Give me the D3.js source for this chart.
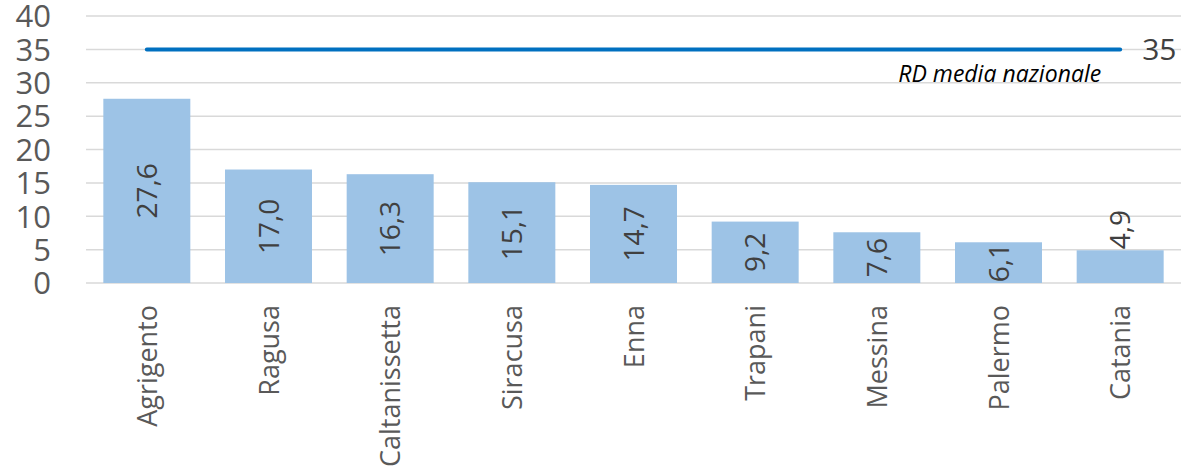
<!DOCTYPE html>
<html>
<head>
<meta charset="utf-8">
<script src="https://cdn.jsdelivr.net/npm/d3@7"></script>
<style>
  html, body { margin: 0; padding: 0; background: #fff; }
  svg { display: block; }
</style>
</head>
<body>
<svg id="chart" width="1184" height="476"></svg>
<script>
// Province values
const provinces = ["Agrigento", "Ragusa", "Caltanissetta", "Siracusa", "Enna", "Trapani", "Messina", "Palermo", "Catania"];
const values = [27.6, 17.0, 16.3, 15.1, 14.7, 9.2, 7.6, 6.1, 4.9];
// National average reference
const nationalAvg = 35;
const nationalLabel = "RD media nazionale";
const yTicks = [0, 5, 10, 15, 20, 25, 30, 35, 40];

const svg = d3.select("#chart");
const plotLeft = 86, plotRight = 1181, plotTop = 16, plotBottom = 283;

const x = d3.scaleBand().domain(provinces).range([plotLeft, plotRight]).paddingInner(0.285).paddingOuter(0.1425);
const y = d3.scaleLinear().domain([0, 40]).range([plotBottom, plotTop]);

const fmt = v => d3.format(".1f")(v).replace(".", ",");
const font = "'Open Sans', sans-serif";

// gridlines
svg.append("g").selectAll("line").data(yTicks).join("line")
  .attr("x1", plotLeft).attr("x2", plotRight)
  .attr("y1", d => y(d)).attr("y2", d => y(d))
  .attr("stroke", "#D9D9D9").attr("stroke-width", 1.5);

// y axis labels
const yAxis = d3.axisLeft(y).tickValues(yTicks).tickSize(0).tickPadding(0);
const ya = svg.append("g").attr("transform", `translate(${plotLeft - 35},0)`).call(yAxis);
ya.select(".domain").remove();
ya.selectAll("text").attr("font-family", font).attr("font-size", 31).attr("fill", "#595959")
  .attr("dy", "0.35em");

// bars
svg.append("g").selectAll("rect").data(values).join("rect")
  .attr("x", (d, i) => x(provinces[i]))
  .attr("width", x.bandwidth())
  .attr("y", d => y(d))
  .attr("height", d => y(0) - y(d))
  .attr("fill", "#9DC3E6");

// value labels, rotated; placed above the bar when it is too short
svg.append("g").selectAll("text").data(values).join("text")
  .attr("transform", (d, i) => {
    const cx = x(provinces[i]) + x.bandwidth() / 2;
    const h = y(0) - y(d);
    const cy = h < 36 ? y(d) - 1 : (y(0) + y(d)) / 2;
    return `translate(${cx + 10},${cy}) rotate(-90)`;
  })
  .attr("text-anchor", d => (y(0) - y(d)) < 36 ? "start" : "middle")
  .attr("font-family", font).attr("font-size", 28).attr("fill", "#404040")
  .text(fmt);

// national average line
const x0 = x(provinces[0]) + x.bandwidth() / 2;
const x1 = x(provinces[provinces.length - 1]) + x.bandwidth() / 2;
svg.append("line")
  .attr("x1", x0).attr("x2", x1)
  .attr("y1", y(nationalAvg)).attr("y2", y(nationalAvg))
  .attr("stroke", "#0070C0").attr("stroke-width", 4).attr("stroke-linecap", "round");

svg.append("text")
  .attr("x", x1 + 22).attr("y", y(nationalAvg) + 11)
  .attr("font-family", font).attr("font-size", 30).attr("fill", "#404040")
  .text(nationalAvg);

svg.append("text")
  .attr("x", x1 - 19).attr("y", y(nationalAvg) + 33)
  .attr("text-anchor", "end")
  .attr("font-family", font).attr("font-size", 23).attr("font-style", "italic").attr("fill", "#000")
  .text(nationalLabel);

// category labels, rotated
svg.append("g").selectAll("text").data(provinces).join("text")
  .attr("transform", d => `translate(${x(d) + x.bandwidth() / 2 + 10},${plotBottom + 22}) rotate(-90)`)
  .attr("text-anchor", "end")
  .attr("font-family", font).attr("font-size", 27).attr("fill", "#595959")
  .text(d => d);
</script>
</body>
</html>
